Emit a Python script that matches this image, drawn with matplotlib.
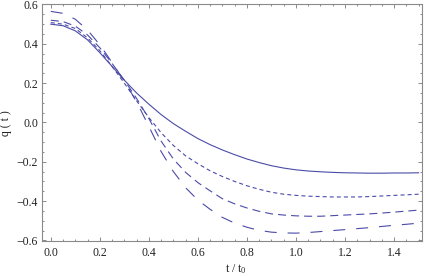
import numpy as np
import matplotlib
matplotlib.use('Agg')
import matplotlib.pyplot as plt
from matplotlib.ticker import MultipleLocator, FuncFormatter

# time grid (t / t0)
t = [0.00, 0.05, 0.10, 0.15, 0.20, 0.25, 0.30, 0.35, 0.40, 0.45,
     0.50, 0.55, 0.60, 0.65, 0.70, 0.75, 0.80, 0.85, 0.90, 0.95,
     1.00, 1.05, 1.10, 1.15, 1.20, 1.25, 1.30, 1.35, 1.40, 1.45, 1.50]

# solid curve
q_solid = [0.500, 0.492, 0.466, 0.420, 0.355, 0.285, 0.215, 0.150, 0.093, 0.040,
           -0.006, -0.045, -0.082, -0.113, -0.140, -0.164, -0.186, -0.204, -0.220, -0.232,
           -0.241, -0.247, -0.251, -0.254, -0.256, -0.257, -0.258, -0.258, -0.257, -0.257, -0.256]

# short dashes
q_short = [0.508, 0.500, 0.478, 0.430, 0.365, 0.285, 0.200, 0.110, 0.025, -0.052,
           -0.117, -0.170, -0.210, -0.246, -0.275, -0.300, -0.322, -0.340, -0.355, -0.365,
           -0.371, -0.375, -0.377, -0.379, -0.379, -0.379, -0.377, -0.374, -0.371, -0.368, -0.365]

# medium dashes
q_medium = [0.520, 0.513, 0.490, 0.445, 0.380, 0.300, 0.215, 0.122, 0.020, -0.095,
            -0.186, -0.254, -0.306, -0.348, -0.388, -0.414, -0.435, -0.452, -0.465, -0.471,
            -0.475, -0.477, -0.477, -0.474, -0.471, -0.468, -0.465, -0.461, -0.456, -0.451, -0.446]

# long dashes
q_long = [0.565, 0.555, 0.525, 0.470, 0.395, 0.305, 0.210, 0.105, -0.020, -0.148,
          -0.250, -0.332, -0.395, -0.442, -0.483, -0.512, -0.533, -0.549, -0.558, -0.562,
          -0.563, -0.560, -0.555, -0.550, -0.545, -0.540, -0.535, -0.529, -0.523, -0.518, -0.512]

plt.rcParams['font.family'] = ['Liberation Serif', 'DejaVu Serif']
plt.rcParams['mathtext.default'] = 'regular'
plt.rcParams['lines.scale_dashes'] = False

line_color = '#4b4ba8'
frame_color = '#8a8a8a'

fig = plt.figure(figsize=(4.27, 2.76), dpi=100)
ax = fig.add_axes([0.0977, 0.1268, 0.8906, 0.8569])

ax.plot(t, q_solid, color=line_color, lw=0.8)
ax.plot(t, q_short, color=line_color, lw=0.8, dashes=(2.9, 2.2))
ax.plot(t, q_medium, color=line_color, lw=0.8, dashes=(5.8, 3.6))
ax.plot(t, q_long, color=line_color, lw=0.8, dashes=(8.6, 7.9))

ax.set_xlim(-0.037, 1.514)
ax.set_ylim(-0.603, 0.6)

fmt = FuncFormatter(lambda v, p: ('%.1f' % v).replace('-', '\u2212'))
ax.xaxis.set_major_locator(MultipleLocator(0.2))
ax.xaxis.set_minor_locator(MultipleLocator(0.05))
ax.yaxis.set_major_locator(MultipleLocator(0.2))
ax.yaxis.set_minor_locator(MultipleLocator(0.05))
ax.xaxis.set_major_formatter(fmt)
ax.yaxis.set_major_formatter(fmt)

ax.tick_params(which='both', direction='in', top=True, right=True,
               color=frame_color, width=0.7, labelsize=8.5, labelcolor='#222222')
ax.tick_params(which='major', length=3.2)
ax.tick_params(which='minor', length=1.6)
ax.tick_params(axis='x', pad=4)
ax.tick_params(axis='y', pad=2.5)

for s in ax.spines.values():
    s.set_color(frame_color)
    s.set_linewidth(0.8)

ax.set_xlabel('t / t$_0$', fontsize=8.5, color='#222222')
ax.xaxis.set_label_coords(0.51, -0.09)
ax.set_ylabel('q ( t )', fontsize=8.5, color='#222222')
ax.yaxis.set_label_coords(-0.077, 0.5)

plt.savefig('out.png', dpi=100)
